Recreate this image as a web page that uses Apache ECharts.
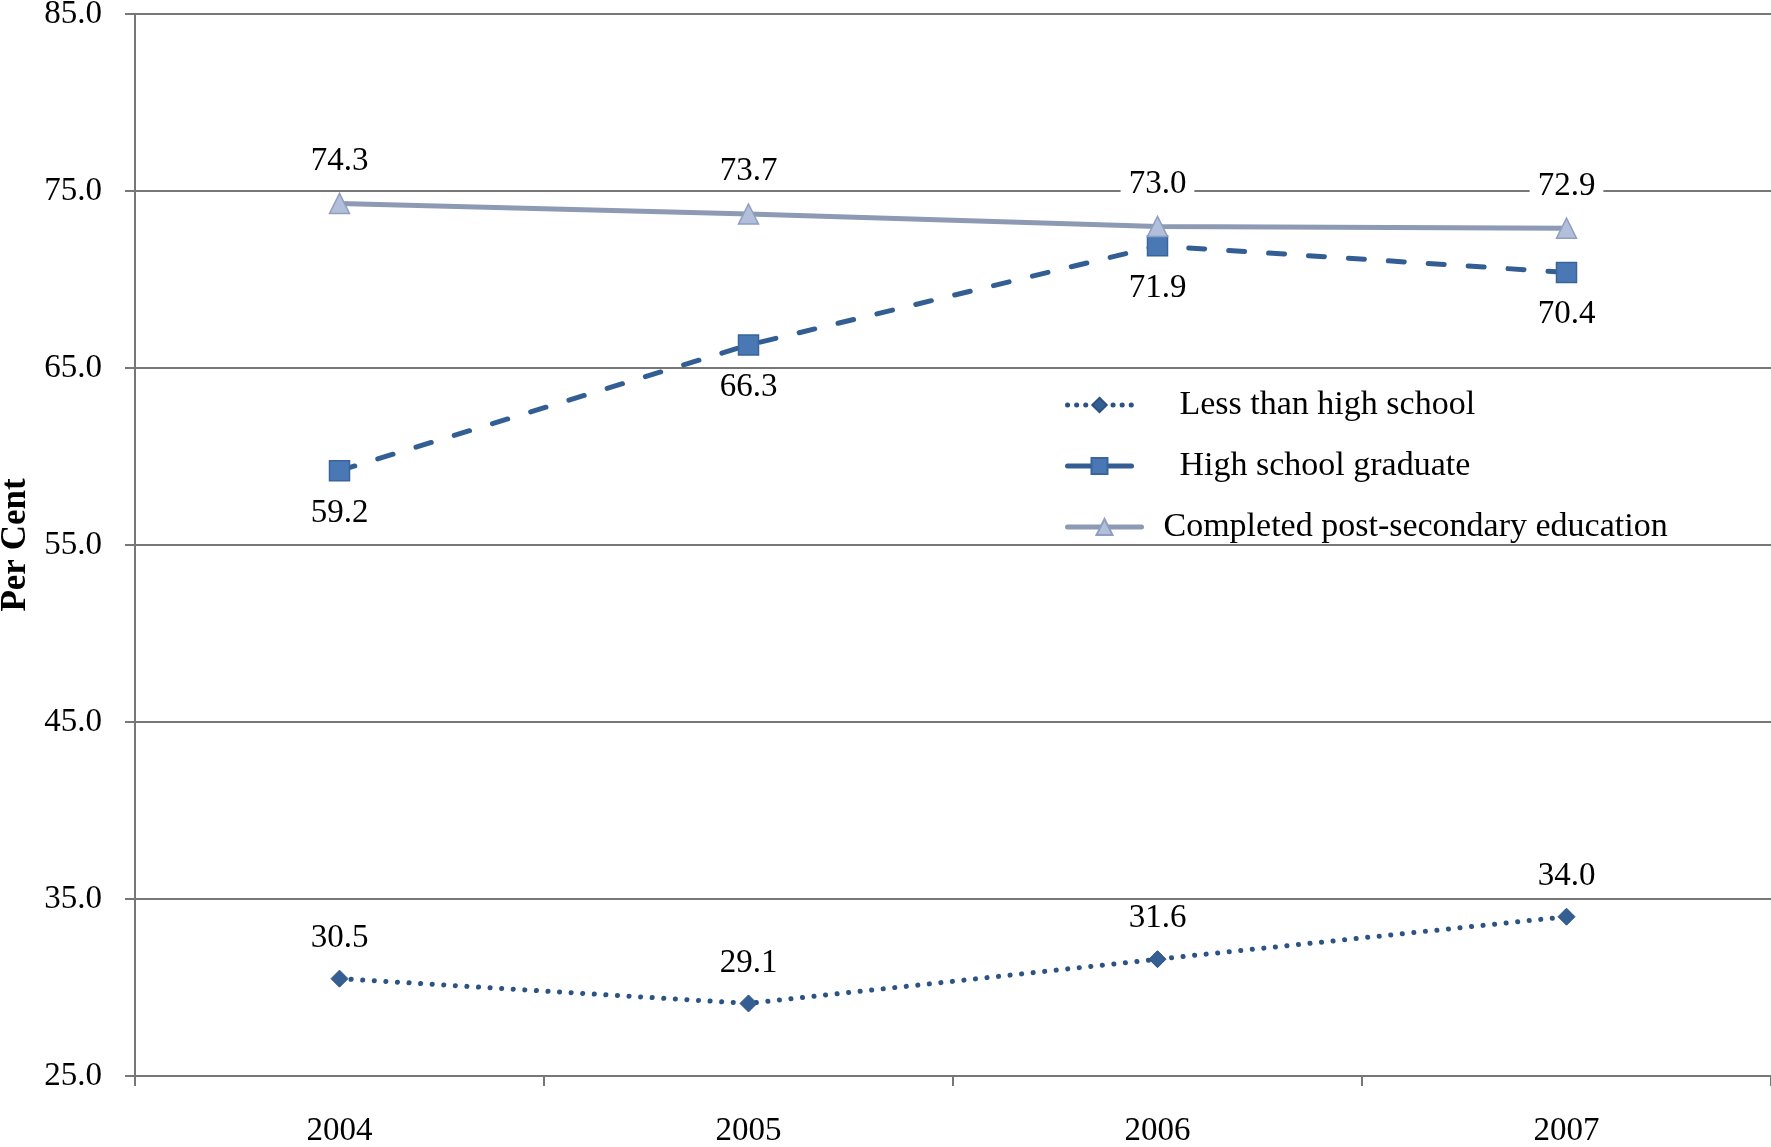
<!DOCTYPE html>
<html><head><meta charset="utf-8">
<script src="https://cdn.jsdelivr.net/npm/echarts@6/dist/echarts.min.js"></script>
<style>html,body{margin:0;padding:0;background:#fff}#c{width:1771px;height:1147px}</style>
</head><body><div id="c"></div>
<script>
const categories = ['2004', '2005', '2006', '2007'];
const lessThanHS = [30.5, 29.1, 31.6, 34.0];
const hsGraduate = [59.2, 66.3, 71.9, 70.4];
const postSecondary = [74.3, 73.7, 73.0, 72.9];
const seriesNames = ['Less than high school', 'High school graduate', 'Completed post-secondary education'];
const yMin = 25, yMax = 85, yStep = 10;

const FONT = '"Liberation Serif", "DejaVu Serif", serif';
const gridColor = '#777777';
const lbl = (pos) => ({
  show: true, position: pos, distance: 15, color: '#000', fontFamily: FONT, fontSize: 33,
  backgroundColor: '#fff', padding: [0, 8, 0, 8],
  formatter: p => p.value.toFixed(1)
});

const chart = echarts.init(document.getElementById('c'));
chart.setOption({
  animation: false,
  backgroundColor: '#fff',
  grid: { left: 135, right: 0, top: 14, bottom: 71, containLabel: false, outerBoundsMode: 'none' },
  legend: [
    { data: [seriesNames[0]], left: 1065, top: 388, padding: 0, orient: 'vertical', itemWidth: 64, itemHeight: 18,
      lineStyle: { width: 5, type: [0.1, 9], cap: 'round', color: '#2C5384' },
      textStyle: { fontFamily: FONT, fontSize: 34, color: '#000', padding: [0, 0, 0, 43] } },
    { data: [seriesNames[1]], left: 1065, top: 449, padding: 0, orient: 'vertical', itemWidth: 64, itemHeight: 20,
      lineStyle: { width: 5, type: 'solid', cap: 'round', color: '#335E93' },
      textStyle: { fontFamily: FONT, fontSize: 34, color: '#000', padding: [0, 0, 0, 43] } },
    { data: [seriesNames[2]], left: 1065, top: 510, padding: 0, orient: 'vertical', itemWidth: 74, itemHeight: 20,
      lineStyle: { width: 5, type: 'solid', cap: 'round', color: '#8D9AB4' },
      textStyle: { fontFamily: FONT, fontSize: 34, color: '#000', padding: [0, 0, 0, 17] } }
  ],
  xAxis: {
    type: 'category', data: categories, boundaryGap: true,
    axisLine: { lineStyle: { color: gridColor, width: 2 } },
    axisTick: { show: true, length: 10, lineStyle: { color: gridColor, width: 2 } },
    axisLabel: { margin: 39, color: '#000', fontFamily: FONT, fontSize: 33 }
  },
  yAxis: {
    type: 'value', min: yMin, max: yMax, interval: yStep,
    name: 'Per Cent', nameLocation: 'middle', nameGap: 98, nameRotate: 90,
    nameTextStyle: { fontFamily: FONT, fontSize: 35, fontWeight: 'bold', color: '#000' },
    axisLine: { show: true, lineStyle: { color: gridColor, width: 2 } },
    axisTick: { show: true, length: 10, lineStyle: { color: gridColor, width: 2 } },
    axisLabel: { margin: 33, color: '#000', fontFamily: FONT, fontSize: 33, formatter: v => v.toFixed(1) },
    splitLine: { show: true, lineStyle: { color: gridColor, width: 2 } }
  },
  series: [
    { name: seriesNames[0], type: 'line', data: lessThanHS, symbol: 'diamond', symbolSize: 17,
      itemStyle: { color: '#355F92', borderColor: '#2D5282', borderWidth: 1 },
      lineStyle: { color: '#2C5384', width: 5, type: [0.1, 11.5], cap: 'round' },
      label: lbl('top'), z: 3 },
    { name: seriesNames[1], type: 'line', data: hsGraduate, symbol: 'rect', symbolSize: 20,
      itemStyle: { color: '#4A78B4', borderColor: '#3A649A', borderWidth: 1.5 },
      lineStyle: { color: '#335E93', width: 5, type: [16, 24], cap: 'round' },
      label: lbl('bottom'), z: 3 },
    { name: seriesNames[2], type: 'line', data: postSecondary, symbol: 'triangle', symbolSize: 20,
      itemStyle: { color: '#B2BFDA', borderColor: '#8F9EBE', borderWidth: 1.5 },
      lineStyle: { color: '#8D9AB4', width: 5 },
      label: lbl('top'), z: 4 }
  ]
});
</script></body></html>
